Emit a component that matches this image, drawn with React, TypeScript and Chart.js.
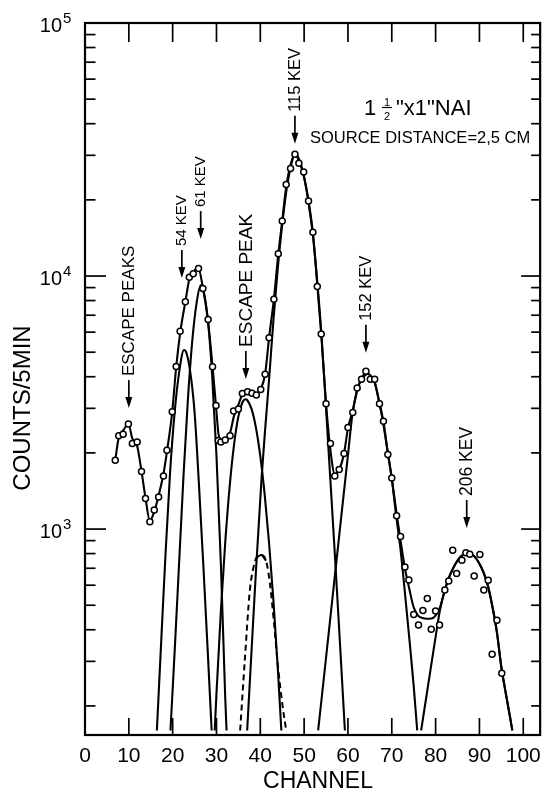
import React, { useEffect, useRef } from "react";
import { Chart, registerables } from "chart.js";

Chart.register(...registerables);

const FONT = '"Liberation Sans", Arimo, Arial, sans-serif';

// ---- measured spectrum (open circles) ----
const dataChannels = [6.9, 7.7, 8.7, 9.9, 10.8, 11.9, 12.9, 13.8, 14.8, 15.8, 16.8, 17.9, 18.7, 19.9, 20.8, 21.7, 22.9, 23.8, 24.7, 25.9, 26.9, 28.1, 29.1, 29.9, 30.4, 31.0, 32.0, 33.1, 33.9, 35.0, 35.9, 37.1, 38.1, 39.1, 40.1, 41.1, 42.0, 43.1, 44.1, 45.0, 45.9, 46.9, 47.9, 48.8, 49.9, 51.0, 52.0, 53.0, 53.9, 55.0, 56.0, 57.0, 58.0, 59.1, 60.0, 61.1, 62.1, 63.1, 64.1, 65.1, 66.1, 67.2, 68.1, 69.1, 70.0, 71.1, 72.0, 73.0, 73.9, 75.0, 76.1, 77.1, 78.1, 79.0, 80.0, 80.9, 82.1, 83.0, 83.9, 84.8, 86.0, 86.9, 87.8, 88.8, 90.1, 91.0, 92.0, 92.9, 94.0, 95.1];
const dataCounts = [1870, 2340, 2370, 2600, 2180, 2210, 1690, 1320, 1070, 1190, 1340, 1620, 2050, 2910, 4390, 6050, 7910, 9900, 10200, 10700, 8930, 6740, 4380, 3080, 2240, 2210, 2250, 2340, 2930, 2980, 3430, 3490, 3440, 3390, 3560, 4090, 5700, 8100, 12250, 16500, 23000, 26600, 30300, 27900, 25800, 19800, 14900, 9100, 5900, 3130, 2180, 1620, 1720, 1990, 2520, 2890, 3610, 3910, 4200, 3910, 3910, 3130, 2670, 1970, 1590, 1130, 935, 708, 629, 460, 418, 477, 532, 402, 474, 418, 574, 623, 824, 668, 753, 806, 796, 652, 794, 574, 627, 320, 436, 269];

// ---- total fitted curve ----
const fitChannels = [6.9, 7.7, 8.7, 9.9, 10.8, 11.9, 12.9, 13.8, 14.8, 15.8, 16.8, 17.9, 18.8, 19.9, 20.8, 21.8, 22.9, 23.8, 24.8, 25.8, 26.9, 28.0, 29.1, 29.9, 30.5, 31.2, 32.1, 33.1, 34.0, 35.0, 35.9, 37.1, 38.1, 39.1, 40.1, 41.1, 42.0, 43.1, 44.1, 45.0, 45.9, 46.9, 47.9, 48.8, 49.9, 51.0, 52.0, 53.0, 53.9, 55.0, 56.0, 57.0, 58.0, 59.1, 60.0, 61.1, 62.1, 63.1, 64.1, 65.1, 66.1, 67.2, 68.1, 69.1, 70.0, 71.1, 72.0, 73.0, 74.0, 75.0, 76.0, 77.0, 78.0, 79.0, 80.0, 81.0, 82.0, 83.0, 84.0, 85.0, 86.0, 87.0, 87.5, 88.0, 89.0, 90.0, 91.0, 92.0, 93.0, 94.0, 95.0, 96.0, 97.0, 97.5];
const fitCounts = [1870, 2300, 2450, 2600, 2280, 2130, 1690, 1330, 1080, 1170, 1360, 1650, 2080, 2900, 4350, 6100, 7900, 9700, 10400, 10800, 9000, 6800, 4400, 3050, 2350, 2230, 2270, 2400, 2800, 3100, 3400, 3480, 3440, 3400, 3570, 4100, 5700, 8100, 12200, 16500, 22500, 27500, 30500, 28500, 25000, 19800, 14800, 9200, 5900, 3130, 2050, 1650, 1720, 1990, 2500, 2950, 3550, 3950, 4150, 4050, 3800, 3150, 2650, 2000, 1590, 1150, 900, 700, 580, 490, 455, 445, 442, 443, 455, 490, 565, 640, 700, 750, 785, 803, 806, 800, 775, 730, 670, 590, 490, 390, 285, 225, 180, 160];

// ---- component peaks ----
const peak54Channels = [16.4, 17.4, 18.4, 19.4, 20.4, 21.4, 22.6, 23.0, 24.0, 25.0, 26.0, 27.0, 28.0, 28.9];
const peak54Counts = [160, 363, 813, 1660, 2820, 4070, 5100, 5040, 4200, 2900, 1500, 720, 330, 160];

const peak61Channels = [19.5, 20.5, 21.5, 22.5, 23.5, 24.5, 25.5, 26.4, 27.0, 28.0, 29.0, 30.0, 31.0, 32.0, 32.3];
const peak61Counts = [160, 340, 750, 1650, 3300, 5600, 7900, 9200, 8810, 6780, 4090, 1950, 731, 215, 160];

const escapeChannels = [29.6, 30.0, 31.0, 32.0, 33.0, 34.0, 35.0, 36.0, 36.6, 37.0, 38.0, 39.0, 40.0, 41.0, 42.0, 43.0, 44.0, 44.8];
const escapeCounts = [160, 224, 474, 887, 1469, 2153, 2786, 3187, 3260, 3236, 2985, 2518, 1941, 1368, 881, 520, 280, 160];

const peak115Channels = [37.0, 38.0, 39.0, 40.3, 41.2, 42.0, 43.0, 44.0, 45.0, 46.0, 47.0, 48.0, 49.0, 50.0, 51.0, 52.0, 53.0, 54.0, 55.0, 56.0, 57.0, 58.0, 59.0, 59.3];
const peak115Counts = [160, 330, 680, 1600, 2600, 3900, 6700, 10800, 16000, 22000, 27300, 30500, 28500, 24500, 19500, 14500, 9500, 5700, 3000, 1550, 800, 400, 198, 160];

const peak152Channels = [53.2, 55.0, 57.0, 58.0, 59.0, 60.0, 61.0, 62.0, 63.0, 64.0, 64.5, 65.0, 66.0, 67.0, 68.0, 69.0, 70.0, 71.0, 72.0, 73.0, 74.0, 75.0, 75.8];
const peak152Counts = [160, 310, 650, 940, 1360, 1960, 2830, 3470, 3890, 4070, 4100, 4060, 3850, 3250, 2650, 2050, 1580, 1130, 830, 560, 370, 240, 160];

const peak206Channels = [76.7, 78.0, 79.0, 80.0, 81.0, 82.0, 83.0, 84.0, 85.0, 86.0, 87.0, 87.5, 88.0, 89.0, 90.0, 91.0, 92.0, 93.0, 94.0, 95.0, 96.0, 97.0, 97.5];
const peak206Counts = [160, 224, 290, 375, 479, 565, 640, 700, 750, 785, 803, 806, 800, 775, 730, 670, 590, 490, 390, 285, 225, 180, 160];

const dashedChannels = [35.4, 36.5, 37.6, 38.4, 39.1, 40.2, 41.3, 42.2, 43.1, 44.0, 45.0, 45.9];
const dashedCounts = [160, 310, 570, 700, 770, 790, 750, 610, 430, 290, 205, 160];

// ---- axes ----
const xTickValues = [0, 10, 20, 30, 40, 50, 60, 70, 80, 90, 100];
const yDecadeValues = [100, 1000, 10000, 100000];
const yDecadeExponents = ["2", "3", "4", "5"];
const yMinorMultipliers = [2, 3, 4, 5, 6, 7, 8, 9];
const X_MIN = 0;
const X_MAX = 103.85;
const Y_MIN = 153.5;
const Y_MAX = 100000;

// ---- peak labels (arrow tip at channel / counts) ----
const peakLabels = [
  { text: "ESCAPE PEAKS", channel: 10.0, counts: 3007, size: 17 },
  { text: "54 KEV", channel: 22.1, counts: 9820, size: 15 },
  { text: "61 KEV", channel: 26.4, counts: 14000, size: 15 },
  { text: "ESCAPE PEAK", channel: 36.7, counts: 3920, size: 19 },
  { text: "115 KEV", channel: 47.9, counts: 33300, size: 16.5 },
  { text: "152 KEV", channel: 64.1, counts: 4970, size: 16.5 },
  { text: "206 KEV", channel: 87.1, counts: 1010, size: 17.5 },
];

const zip = (xs: number[], ys: number[]) => xs.map((x, i) => ({ x, y: ys[i] }));

const curve = (xs: number[], ys: number[], extra: any = {}) => ({
  data: zip(xs, ys),
  borderColor: "#000",
  borderWidth: 2.1,
  pointRadius: 0,
  fill: false,
  tension: 0.4,
  cubicInterpolationMode: "monotone",
  order: 2,
  ...extra,
});

const decorations = {
  id: "decorations",
  afterDraw(chart: any) {
    const { ctx, chartArea: a } = chart;
    const xs = chart.scales.x;
    const ys = chart.scales.y;
    const seg = (x1: number, y1: number, x2: number, y2: number) => {
      ctx.beginPath();
      ctx.moveTo(x1, y1);
      ctx.lineTo(x2, y2);
      ctx.stroke();
    };
    ctx.save();
    ctx.strokeStyle = "#000";
    ctx.fillStyle = "#000";
    ctx.lineWidth = 2.2;
    ctx.strokeRect(a.left, a.top, a.right - a.left, a.bottom - a.top);

    // inward x ticks (bottom and top)
    ctx.lineWidth = 1.7;
    xTickValues.forEach((v) => {
      if (v <= X_MIN || v >= X_MAX) return;
      const px = xs.getPixelForValue(v);
      seg(px, a.bottom, px, a.bottom - 17);
      seg(px, a.top, px, a.top + 19);
    });

    // inward y ticks (left and right)
    yDecadeValues.forEach((d) => {
      if (d > Y_MIN && d < Y_MAX) {
        const py = ys.getPixelForValue(d);
        seg(a.left, py, a.left + 21, py);
        seg(a.right, py, a.right - 19, py);
      }
      yMinorMultipliers.forEach((m) => {
        const v = d * m;
        if (v <= Y_MIN || v >= Y_MAX) return;
        const py = ys.getPixelForValue(v);
        seg(a.left, py, a.left + 10.5, py);
        seg(a.right, py, a.right - 9, py);
      });
    });

    // y tick labels 10^n
    yDecadeValues.forEach((d, i) => {
      if (d < Y_MIN - 1 || d > Y_MAX + 1) return;
      const py = ys.getPixelForValue(d);
      ctx.font = `20px ${FONT}`;
      ctx.textAlign = "right";
      ctx.textBaseline = "alphabetic";
      ctx.fillText("10", a.left - 23, py + 8.5);
      ctx.font = `15px ${FONT}`;
      ctx.textAlign = "left";
      ctx.fillText(yDecadeExponents[i], a.left - 22, py);
    });

    // axis titles
    ctx.save();
    ctx.translate(23, 408);
    ctx.rotate(-Math.PI / 2);
    ctx.font = `24px ${FONT}`;
    ctx.textAlign = "center";
    ctx.textBaseline = "middle";
    ctx.fillText("COUNTS/5MIN", 0, 0);
    ctx.restore();

    ctx.font = `23px ${FONT}`;
    ctx.textAlign = "center";
    ctx.textBaseline = "middle";
    ctx.fillText("CHANNEL", 318, 782);

    // peak labels with arrows
    const ARROW = 28;
    peakLabels.forEach((p) => {
      const px = xs.getPixelForValue(p.channel);
      const tip = ys.getPixelForValue(p.counts);
      const top = tip - ARROW;
      ctx.lineWidth = 1.7;
      seg(px, top, px, tip - 6);
      ctx.beginPath();
      ctx.moveTo(px, tip);
      ctx.lineTo(px - 3.5, tip - 11);
      ctx.lineTo(px + 3.5, tip - 11);
      ctx.closePath();
      ctx.fill();
      ctx.save();
      ctx.translate(px, top - 4);
      ctx.rotate(-Math.PI / 2);
      ctx.font = `${p.size}px ${FONT}`;
      ctx.textAlign = "left";
      ctx.textBaseline = "middle";
      ctx.fillText(p.text, 0, 0.5);
      ctx.restore();
    });

    // detector / geometry note
    ctx.textAlign = "left";
    ctx.textBaseline = "alphabetic";
    ctx.font = `22px ${FONT}`;
    ctx.fillText("1", 364, 115);
    ctx.font = `11px ${FONT}`;
    ctx.textAlign = "center";
    ctx.fillText("1", 387, 105.5);
    ctx.fillText("2", 387, 119.5);
    ctx.lineWidth = 1.2;
    seg(382, 107.5, 392, 107.5);
    ctx.textAlign = "left";
    ctx.font = `22px ${FONT}`;
    ctx.fillText('"x1"NAI', 396, 115);
    ctx.font = `16.5px ${FONT}`;
    ctx.fillText("SOURCE DISTANCE=2,5 CM", 310, 143);
    ctx.restore();
  },
};

export default function App() {
  const ref = useRef<HTMLCanvasElement>(null);
  useEffect(() => {
    document.body.style.margin = "0";
    const canvas = ref.current;
    if (!canvas) return;
    const chart = new Chart(canvas, {
      type: "line",
      data: {
        datasets: [
          {
            data: zip(dataChannels, dataCounts),
            showLine: false,
            pointRadius: 3,
            pointBorderWidth: 1.5,
            pointBackgroundColor: "#fff",
            pointBorderColor: "#000",
            borderColor: "#000",
            order: 0,
          } as any,
          curve(fitChannels, fitCounts, { order: 1 }),
          curve(peak54Channels, peak54Counts),
          curve(peak61Channels, peak61Counts),
          curve(escapeChannels, escapeCounts),
          curve(peak115Channels, peak115Counts),
          curve(peak152Channels, peak152Counts),
          curve(peak206Channels, peak206Counts),
          curve(dashedChannels, dashedCounts, { borderDash: [6, 4], borderWidth: 2 }),
          curve(dashedChannels.slice(4, 7), dashedCounts.slice(4, 7), { borderWidth: 2 }),
        ],
      },
      options: {
        responsive: false,
        animation: false,
        events: [],
        layout: { padding: { top: 23, right: 6, left: 0, bottom: 0 } },
        plugins: { legend: { display: false }, tooltip: { enabled: false } },
        scales: {
          x: {
            type: "linear",
            min: X_MIN,
            max: X_MAX,
            grid: { display: false, drawTicks: false },
            border: { display: false },
            afterBuildTicks: (s: any) => {
              s.ticks = xTickValues.map((v) => ({ value: v }));
            },
            afterFit: (s: any) => {
              s.height = 58;
            },
            ticks: {
              includeBounds: false,
              autoSkip: false,
              maxRotation: 0,
              color: "#000",
              padding: 9,
              font: { size: 21, family: FONT },
            },
          },
          y: {
            type: "logarithmic",
            min: Y_MIN,
            max: Y_MAX,
            grid: { display: false, drawTicks: false },
            border: { display: false },
            ticks: { display: false },
            afterFit: (s: any) => {
              s.width = 85;
            },
          },
        },
      } as any,
      plugins: [decorations],
    });
    return () => chart.destroy();
  }, []);
  return (
    <div style={{ position: "absolute", left: 0, top: 0, width: 550, height: 793, background: "#fff" }}>
      <canvas ref={ref} width={550} height={793} style={{ display: "block", width: 550, height: 793 }} />
    </div>
  );
}
